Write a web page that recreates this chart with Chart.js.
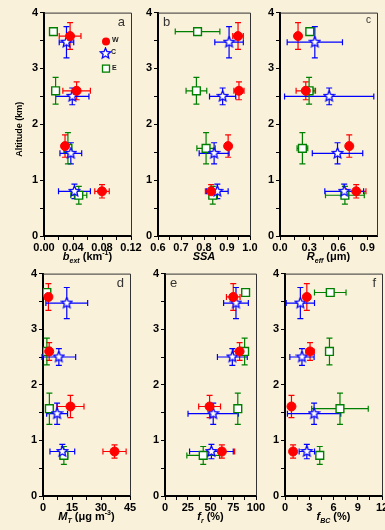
<!DOCTYPE html>
<html>
<head>
<meta charset="utf-8">
<script src="https://cdn.jsdelivr.net/npm/chart.js@4.4.0/dist/chart.umd.min.js"></script>
<style>
  body { margin: 0; width: 385px; height: 530px; overflow: hidden; position: relative; background: #f9f1da; }
  canvas { position: absolute; }
</style>
</head>
<body>
<canvas id="pa"></canvas>
<canvas id="pb"></canvas>
<canvas id="pc"></canvas>
<canvas id="pd"></canvas>
<canvas id="pe"></canvas>
<canvas id="pf"></canvas>
<script>
// altitude of each layer (km) for the three groups, and its spread
const altW = [3.58, 2.60, 1.61, 0.80];
const altC = [3.47, 2.50, 1.48, 0.80];
const altE = [3.66, 2.60, 1.57, 0.73];
const altErrW = [0.24, 0.16, 0.20, 0.12];
const altErrC = [0.28, 0.15, 0.19, 0.13];
const altErrE = [0.07, 0.24, 0.28, 0.16];

// a: extinction coefficient (km-1)
const bextW = [0.036, 0.045, 0.029, 0.080];
const bextErrW = [0.015, 0.019, 0.004, 0.010];
const bextC = [0.031, 0.039, 0.037, 0.042];
const bextErrC = [0.010, 0.023, 0.015, 0.022];
const bextE = [0.013, 0.016, 0.033, 0.048];
const bextErrE = [0.003, 0.003, 0.005, 0.011];

// b: single scattering albedo
const ssaW = [0.948, 0.952, 0.905, 0.831];
const ssaErrW = [0.023, 0.022, 0, 0.025];
const ssaC = [0.909, 0.881, 0.844, 0.858];
const ssaErrC = [0.062, 0.057, 0.065, 0.047];
const ssaE = [0.772, 0.767, 0.809, 0.838];
const ssaErrE = [0.097, 0.045, 0.040, 0.006];

// c: effective radius (um)
const reffW = [0.186, 0.266, 0.714, 0.786];
const reffErrW = [0, 0.10, 0, 0.10];
const reffC = [0.359, 0.507, 0.593, 0.662];
const reffErrC = [0.285, 0.46, 0.26, 0.20];
const reffE = [0.307, 0.300, 0.231, 0.669];
const reffErrE = [0.03, 0.05, 0.055, 0.20];

// d: total mass (ug m-3)
const mtW = [2.8, 3.2, 14.2, 37.0];
const mtErrW = [0, 0, 7.0, 6.0];
const mtC = [12.3, 8.2, 7.3, 10.0];
const mtErrC = [10.8, 8.7, 5.4, 6.4];
const mtE = [2.0, 2.0, 3.3, 10.8];
const mtErrE = [0.8, 0, 0, 2.0];

// e: refractory fraction (%)
const frW = [75, 82, 49, 62.5];
const frErrW = [7.5, 6.8, 12, 14];
const frC = [78, 74, 53, 51];
const frErrC = [13.6, 16.4, 27.7, 24];
const frE = [88.6, 87.5, 80, 42];
const frErrE = [3, 3, 0, 18];

// f: BC fraction (%)
const fbcW = [2.7, 3.1, 0.8, 1.0];
const fbcErrW = [0, 0.5, 0, 0];
const fbcC = [1.9, 2.1, 3.6, 2.7];
const fbcErrC = [1.75, 1.5, 3.3, 0.95];
const fbcE = [5.6, 5.5, 6.8, 4.3];
const fbcErrE = [1.95, 0, 3.5, 0];

// tick labels
const altTicks = ['0', '1', '2', '3', '4'];
const bextTicks = ['0.00', '0.04', '0.08', '0.12'];
const ssaTicks = ['0.6', '0.7', '0.8', '0.9', '1.0'];
const reffTicks = ['0.0', '0.3', '0.6', '0.9'];
const mtTicks = ['0', '15', '30', '45'];
const frTicks = ['0', '25', '50', '75', '100'];
const fbcTicks = ['0', '3', '6', '9', '12'];

const FONT = '"Liberation Sans", Arial, sans-serif';
const RED = '#ff0000', BLUE = '#0000ff', GREEN = '#008000';

// hollow five point star used for the C group
function makeStar(size) {
  const c = document.createElement('canvas');
  c.width = size; c.height = size;
  const g = c.getContext('2d');
  const cx = size / 2, cy = size / 2, ro = size / 2 - 1, ri = ro * 0.45;
  g.beginPath();
  for (let i = 0; i < 10; i++) {
    const r = i % 2 ? ri : ro;
    const ang = -Math.PI / 2 + i * Math.PI / 5;
    g.lineTo(cx + r * Math.cos(ang), cy + r * Math.sin(ang));
  }
  g.closePath();
  g.fillStyle = '#fff';
  g.fill();
  g.strokeStyle = BLUE;
  g.lineWidth = 1.3;
  g.stroke();
  return c;
}
const starImg = makeStar(13);

function points(xs, xErr, ys, yErr) {
  return xs.map((x, i) => ({ x: x, y: ys[i], xe: xErr[i], ye: yErr[i] }));
}

function tickList(labels) {
  const major = labels.map(Number);
  const all = [];
  major.forEach((v, i) => {
    all.push(v);
    if (i < major.length - 1) all.push((v + major[i + 1]) / 2);
  });
  return all;
}

const errorBars = {
  id: 'errorBars',
  beforeDatasetsDraw(chart) {
    const { ctx, scales: { x, y } } = chart;
    const cap = 3;
    chart.data.datasets.forEach((ds) => {
      ctx.save();
      ctx.strokeStyle = ds.errColor;
      ctx.lineWidth = 1.2;
      ds.data.forEach((pt) => {
        const px = x.getPixelForValue(pt.x);
        const py = y.getPixelForValue(pt.y);
        ctx.beginPath();
        if (pt.xe) {
          const x1 = x.getPixelForValue(pt.x - pt.xe);
          const x2 = x.getPixelForValue(pt.x + pt.xe);
          ctx.moveTo(x1, py); ctx.lineTo(x2, py);
          ctx.moveTo(x1, py - cap); ctx.lineTo(x1, py + cap);
          ctx.moveTo(x2, py - cap); ctx.lineTo(x2, py + cap);
        }
        if (pt.ye) {
          const y1 = y.getPixelForValue(pt.y - pt.ye);
          const y2 = y.getPixelForValue(pt.y + pt.ye);
          ctx.moveTo(px, y1); ctx.lineTo(px, y2);
          ctx.moveTo(px - cap, y1); ctx.lineTo(px + cap, y1);
          ctx.moveTo(px - cap, y2); ctx.lineTo(px + cap, y2);
        }
        ctx.stroke();
      });
      ctx.restore();
    });
  }
};

// text made of pieces with sub / superscripts
function drawRich(ctx, parts, cx, baseY) {
  let total = 0;
  parts.forEach((p) => { ctx.font = p.f; total += ctx.measureText(p.t).width; });
  let xPos = cx - total / 2;
  ctx.textAlign = 'left';
  ctx.textBaseline = 'alphabetic';
  parts.forEach((p) => {
    ctx.font = p.f;
    ctx.fillText(p.t, xPos, baseY + (p.dy || 0));
    xPos += ctx.measureText(p.t).width;
  });
}

function decoPlugin(cfg) {
  return {
    id: 'deco',
    afterDraw(chart) {
      const { ctx, chartArea: a } = chart;
      ctx.save();
      ctx.strokeStyle = '#333';
      ctx.lineWidth = 1;
      ctx.beginPath();
      ctx.moveTo(a.left, a.top + 0.5);
      ctx.lineTo(a.right + 0.5, a.top + 0.5);
      ctx.lineTo(a.right + 0.5, a.bottom);
      ctx.stroke();

      ctx.fillStyle = '#333';
      ctx.font = cfg.letterFont || ('13px ' + FONT);
      ctx.textBaseline = 'top';
      if (cfg.letterLeft) {
        ctx.textAlign = 'left';
        ctx.fillText(cfg.letter, a.left + 5, a.top + 3);
      } else {
        ctx.textAlign = 'right';
        ctx.fillText(cfg.letter, a.right - 6, a.top + 3);
      }

      ctx.fillStyle = '#000';
      drawRich(ctx, cfg.title, (a.left + a.right) / 2, a.bottom + 24);

      if (cfg.yTitle) {
        ctx.save();
        ctx.translate(a.left - 24, (a.top + a.bottom) / 2 + 5);
        ctx.rotate(-Math.PI / 2);
        ctx.font = 'bold 9px "Liberation Sans Narrow", ' + FONT;
        ctx.textAlign = 'center';
        ctx.textBaseline = 'middle';
        ctx.fillText(cfg.yTitle, 0, 0);
        ctx.restore();
      }

      if (cfg.legend) {
        const lx = a.left + 62, rows = [a.top + 29, a.top + 41, a.top + 56];
        ctx.fillStyle = RED;
        ctx.beginPath(); ctx.arc(lx, rows[0], 4, 0, Math.PI * 2); ctx.fill();
        ctx.drawImage(starImg, lx - 7, rows[1] - 6.5);
        ctx.fillStyle = '#fff';
        ctx.strokeStyle = GREEN;
        ctx.lineWidth = 1.3;
        ctx.fillRect(lx - 3.5, rows[2] - 3.5, 7, 7);
        ctx.strokeRect(lx - 3.5, rows[2] - 3.5, 7, 7);
        ctx.fillStyle = '#222';
        ctx.font = 'bold 7px ' + FONT;
        ctx.textAlign = 'left';
        ctx.textBaseline = 'middle';
        ctx.fillText('W', lx + 6, rows[0] - 2);
        ctx.fillText('C', lx + 5, rows[1] - 2);
        ctx.fillText('E', lx + 6, rows[2] - 1);
      }
      ctx.restore();
    }
  };
}

const tf = (s) => 'bold ' + s + 'px ' + FONT;
const ti = (s) => 'italic bold ' + s + 'px ' + FONT;

const panels = [
  { id: 'pa', area: [44, 12, 131, 236], xs: [bextW, bextC, bextE], xe: [bextErrW, bextErrC, bextErrE],
    range: [0, 0.12], ticks: bextTicks, letter: 'a', legend: true, yTitle: 'Altitude (km)',
    title: [{ t: 'b', f: ti(11) }, { t: 'ext', f: ti(7), dy: 3 }, { t: ' (km', f: tf(11) }, { t: '-1', f: tf(7), dy: -5 }, { t: ')', f: tf(11) }] },
  { id: 'pb', area: [158, 12, 250, 236], xs: [ssaW, ssaC, ssaE], xe: [ssaErrW, ssaErrC, ssaErrE],
    range: [0.6, 1.0], ticks: ssaTicks, letter: 'b', letterLeft: true,
    title: [{ t: 'SSA', f: ti(11) }] },
  { id: 'pc', area: [280, 12, 377, 236], xs: [reffW, reffC, reffE], xe: [reffErrW, reffErrC, reffErrE],
    range: [0, 1.0], ticks: reffTicks, letter: 'c', letterFont: '10px ' + FONT,
    title: [{ t: 'R', f: ti(11) }, { t: 'eff', f: ti(7), dy: 3 }, { t: ' (\u03bcm)', f: tf(11) }] },
  { id: 'pd', area: [43, 273, 130, 496], xs: [mtW, mtC, mtE], xe: [mtErrW, mtErrC, mtErrE],
    range: [0, 45], ticks: mtTicks, letter: 'd',
    title: [{ t: 'M', f: ti(11) }, { t: 'T', f: ti(7), dy: 3 }, { t: ' (\u03bcg m', f: tf(11) }, { t: '-3', f: tf(7), dy: -5 }, { t: ')', f: tf(11) }] },
  { id: 'pe', area: [165, 273, 256, 496], xs: [frW, frC, frE], xe: [frErrW, frErrC, frErrE],
    range: [0, 100], ticks: frTicks, letter: 'e', letterLeft: true,
    title: [{ t: 'f', f: ti(11) }, { t: 'r', f: ti(7), dy: 3 }, { t: ' (%)', f: tf(11) }] },
  { id: 'pf', area: [285, 273, 382, 496], xs: [fbcW, fbcC, fbcE], xe: [fbcErrW, fbcErrC, fbcErrE],
    range: [0, 12], ticks: fbcTicks, letter: 'f',
    title: [{ t: 'f', f: ti(11) }, { t: 'BC', f: ti(7), dy: 3 }, { t: ' (%)', f: tf(11) }] }
];

const Y_W = 32, X_H = 34, PAD_T = 8, PAD_R = 18;

panels.forEach((p) => {
  const [l, t, r, b] = p.area;
  const cv = document.getElementById(p.id);
  cv.width = (r - l) + Y_W + PAD_R;
  cv.height = (b - t) + PAD_T + X_H;
  cv.style.left = (l - Y_W) + 'px';
  cv.style.top = (t - PAD_T) + 'px';

  const xMajor = p.ticks.map(Number);
  const xAll = tickList(p.ticks);
  const yMajor = altTicks.map(Number);
  const yAll = tickList(altTicks);
  const isMajor = (list, v) => list.some((m) => Math.abs(m - v) < 1e-9);

  new Chart(cv, {
    type: 'scatter',
    data: {
      datasets: [
        { label: 'W', data: points(p.xs[0], p.xe[0], altW, altErrW), errColor: RED,
          pointStyle: 'circle', pointRadius: 4.5, backgroundColor: RED, borderColor: RED, borderWidth: 1 },
        { label: 'C', data: points(p.xs[1], p.xe[1], altC, altErrC), errColor: BLUE,
          pointStyle: starImg, pointRadius: 6 },
        { label: 'E', data: points(p.xs[2], p.xe[2], altE, altErrE), errColor: GREEN,
          pointStyle: 'rect', pointRadius: 5.5, backgroundColor: '#fff', borderColor: GREEN, borderWidth: 1.4 }
      ]
    },
    options: {
      responsive: false,
      animation: false,
      events: [],
      layout: { padding: { top: PAD_T, right: PAD_R, left: 0, bottom: 0 } },
      plugins: { legend: { display: false }, tooltip: { enabled: false } },
      scales: {
        x: {
          type: 'linear',
          min: p.range[0],
          max: p.range[1],
          afterBuildTicks: (s) => { s.ticks = xAll.map((v) => ({ value: v })); },
          afterFit: (s) => { s.height = X_H; },
          ticks: {
            autoSkip: false, maxRotation: 0, padding: 1, color: '#000',
            font: { family: FONT, size: 11, weight: 'bold' },
            callback: (v) => {
              const i = xMajor.findIndex((m) => Math.abs(m - v) < 1e-9);
              return i >= 0 ? p.ticks[i] : '';
            }
          },
          grid: { drawOnChartArea: false, tickLength: 4, color: '#000', lineWidth: 1 },
          border: { color: '#000', width: 2 }
        },
        y: {
          type: 'linear',
          min: 0,
          max: 4,
          afterBuildTicks: (s) => { s.ticks = yAll.map((v) => ({ value: v })); },
          afterFit: (s) => { s.width = Y_W; },
          ticks: {
            autoSkip: false, padding: 2, color: '#000',
            font: { family: FONT, size: 11, weight: 'bold' },
            callback: (v) => (isMajor(yMajor, v) ? String(v) : '')
          },
          grid: { drawOnChartArea: false, tickLength: 4, color: '#000', lineWidth: 1 },
          border: { color: '#000', width: 2 }
        }
      }
    },
    plugins: [errorBars, decoPlugin(p)]
  });
});
</script>
</body>
</html>
